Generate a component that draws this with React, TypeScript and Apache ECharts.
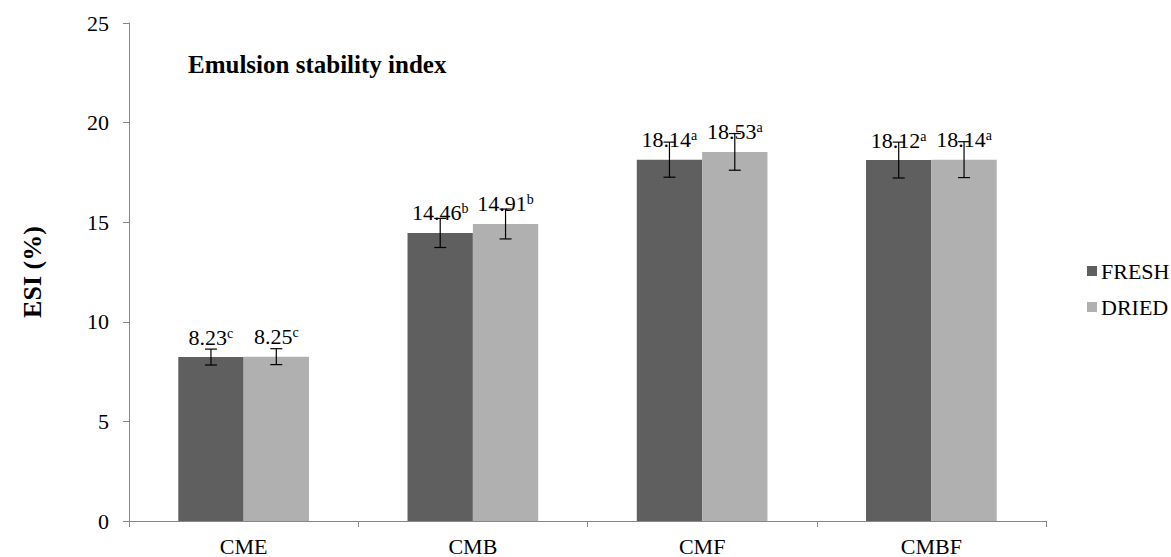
import React, { useEffect, useRef } from "react";
import * as echarts from "echarts";

const categories = ["CME", "CMB", "CMF", "CMBF"];
const seriesNames = ["FRESH", "DRIED"];
const freshValues = [8.23, 14.46, 18.14, 18.12];
const driedValues = [8.25, 14.91, 18.53, 18.14];
const freshErrors = [0.4, 0.73, 0.88, 0.9];
const driedErrors = [0.4, 0.75, 0.92, 0.9];
const freshLetters = ["c", "b", "a", "a"];
const driedLetters = ["c", "b", "a", "a"];
const yTicks = { min: 0, max: 25, interval: 5 };

const FONT = "Liberation Serif";
const CAT_GAP = 0.43;

export default function App() {
  const ref = useRef<HTMLDivElement>(null);
  useEffect(() => {
    document.body.style.margin = "0";
    const chart = echarts.init(ref.current!, null, { renderer: "svg" });

    const makeLabel = (letters: string[]) => ({
      show: true,
      position: "top",
      distance: 9,
      formatter: (p: any) => `{v|${p.value.toFixed(2)}}{s|${letters[p.dataIndex]}}`,
      rich: {
        v: { fontFamily: FONT, fontSize: 22, color: "#000", verticalAlign: "bottom", lineHeight: 22 },
        s: { fontFamily: FONT, fontSize: 14, color: "#000", verticalAlign: "top", lineHeight: 14 },
      },
    });

    const errorSeries = (values: number[], errors: number[], side: number) => ({
      type: "custom",
      z: 10,
      silent: true,
      data: values.map((v, i) => [i, v, errors[i]]),
      encode: { x: 0, y: 1 },
      renderItem: (params: any, api: any) => {
        const i = api.value(0);
        const v = api.value(1);
        const e = api.value(2);
        const band = api.size([1, 0])[0];
        const bw = (band * (1 - CAT_GAP)) / 2;
        const c = api.coord([i, v]);
        const x = c[0] + side * bw / 2;
        const top = api.coord([i, v + e])[1];
        const bot = api.coord([i, v - e])[1];
        const cap = 6;
        const style = { stroke: "#000", lineWidth: 1.2 };
        return {
          type: "group",
          children: [
            { type: "line", shape: { x1: x, y1: top, x2: x, y2: bot }, style },
            { type: "line", shape: { x1: x - cap, y1: top, x2: x + cap, y2: top }, style },
            { type: "line", shape: { x1: x - cap, y1: bot, x2: x + cap, y2: bot }, style },
          ],
        };
      },
    });

    chart.setOption({
      animation: false,
      backgroundColor: "#fff",
      textStyle: { fontFamily: FONT },
      grid: { left: 129, right: 125, top: 23, bottom: 36, containLabel: false },
      graphic: [
        {
          type: "text",
          left: 188,
          top: 52,
          style: { text: "Emulsion stability index", fontFamily: FONT, fontSize: 25, fontWeight: "bold", fill: "#000" },
        },
      ],
      legend: {
        orient: "vertical",
        left: 1082,
        top: 255,
        itemWidth: 10,
        itemHeight: 10,
        itemGap: 14,
        icon: "rect",
        data: seriesNames,
        textStyle: { fontFamily: FONT, fontSize: 22, color: "#000", padding: [0, 0, 0, -1] },
      },
      xAxis: {
        type: "category",
        data: categories,
        axisLine: { lineStyle: { color: "#888" } },
        axisTick: { show: true, length: 6, lineStyle: { color: "#888" } },
        axisLabel: { fontFamily: FONT, fontSize: 22, color: "#000", margin: 14 },
      },
      yAxis: {
        type: "value",
        min: yTicks.min,
        max: yTicks.max,
        interval: yTicks.interval,
        name: "ESI (%)",
        nameLocation: "middle",
        nameRotate: 90,
        nameGap: 84,
        nameTextStyle: { fontFamily: FONT, fontSize: 26, fontWeight: "bold", color: "#000" },
        axisLine: { show: true, lineStyle: { color: "#888" } },
        axisTick: { show: true, length: 6, lineStyle: { color: "#888" } },
        splitLine: { show: false },
        axisLabel: { fontFamily: FONT, fontSize: 22, color: "#000", margin: 20 },
      },
      series: [
        {
          name: seriesNames[0],
          type: "bar",
          data: freshValues,
          barGap: "0%",
          barCategoryGap: `${CAT_GAP * 100}%`,
          itemStyle: { color: "#5f5f5f" },
          label: makeLabel(freshLetters),
        },
        {
          name: seriesNames[1],
          type: "bar",
          data: driedValues,
          barGap: "0%",
          barCategoryGap: `${CAT_GAP * 100}%`,
          itemStyle: { color: "#b0b0b0" },
          label: makeLabel(driedLetters),
        },
        errorSeries(freshValues, freshErrors, -1),
        errorSeries(driedValues, driedErrors, 1),
      ],
    });
    return () => chart.dispose();
  }, []);
  return <div ref={ref} style={{ width: 1171, height: 557 }} />;
}
